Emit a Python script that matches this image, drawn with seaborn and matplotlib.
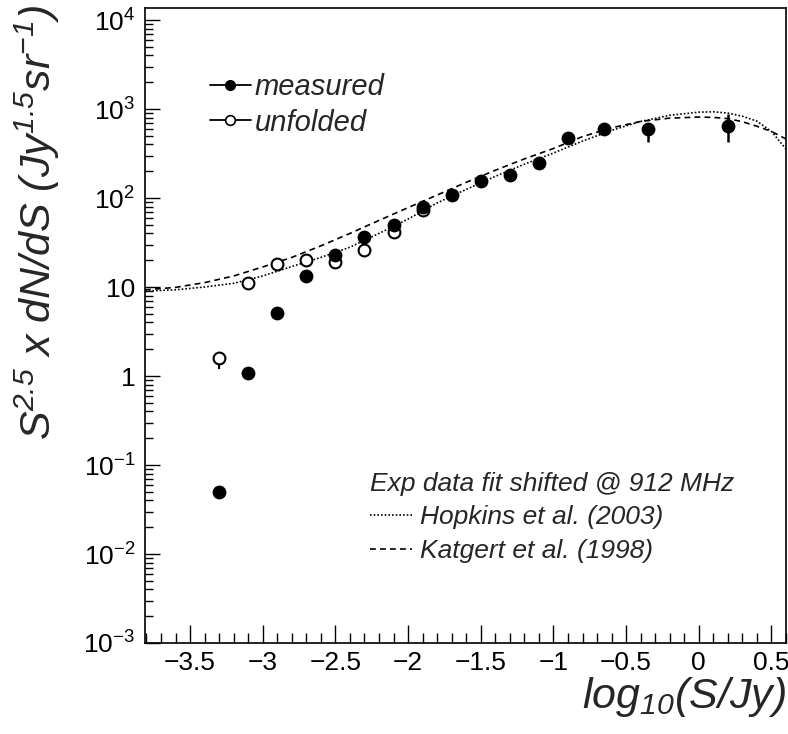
import numpy as np
import pandas as pd
import matplotlib
matplotlib.use("Agg")
import matplotlib.pyplot as plt
import seaborn as sns
from matplotlib.ticker import FixedLocator, FixedFormatter, LogLocator, NullFormatter, MultipleLocator
from matplotlib.lines import Line2D
from matplotlib.font_manager import FontProperties

# ---------------- data ----------------
x_meas = [-3.3, -3.1, -2.9, -2.7, -2.5, -2.3, -2.1, -1.9, -1.7, -1.5, -1.3, -1.1, -0.9, -0.65, -0.35, 0.2]
y_meas = [0.05, 1.08, 5.1, 13.2, 23, 36, 50, 80, 108, 155, 180, 250, 470, 590, 593, 641]
meas_err_lo = [0, 0, 0, 0, 0, 0, 0, 0, 0, 0, 0, 0, 0, 0, 163, 217]
meas_err_hi = [0, 0, 0, 0, 0, 0, 0, 0, 0, 0, 0, 0, 0, 0, 50, 235]

x_unf = [-3.3, -3.1, -2.9, -2.7, -2.5, -2.3, -2.1, -1.9]
y_unf = [1.6, 11.2, 18.3, 20, 19.3, 26, 41, 74]
unf_err_lo = [0.4, 0, 0, 0, 0, 0, 0, 0]
unf_err_hi = [0, 0, 0, 0, 0, 0, 0, 0]

x_curve = [-3.81, -3.6, -3.4, -3.2, -3.0, -2.8, -2.6, -2.4, -2.2, -2.0, -1.8, -1.6,
           -1.4, -1.2, -1.0, -0.8, -0.6, -0.4, -0.2, 0.0, 0.1, 0.2, 0.3, 0.4, 0.5, 0.6]
y_hopkins = [9.0, 9.3, 10.0, 11.0, 13.3, 17.0, 21.5, 28, 40, 58, 88, 125,
             175, 240, 320, 436, 575, 725, 850, 922, 930, 900, 830, 730, 560, 355]
y_katgert = [9.3, 9.9, 11.2, 13.3, 16.8, 21.5, 29, 40, 56, 78, 108, 150,
             205, 275, 360, 490, 615, 725, 790, 812, 805, 780, 720, 640, 560, 460]
curve_names = ["Hopkins et al. (2003)", "Katgert et al. (1998)"]

xtick_vals = [-3.5, -3.0, -2.5, -2.0, -1.5, -1.0, -0.5, 0.0, 0.5]
xtick_labels = ["\u22123.5", "\u22123", "\u22122.5", "\u22122", "\u22121.5", "\u22121", "\u22120.5", "0", "0.5"]
ytick_vals = [1e-3, 1e-2, 1e-1, 1, 10, 1e2, 1e3, 1e4]
ytick_labels = [r"$10^{-3}$", r"$10^{-2}$", r"$10^{-1}$", "1", "10", r"$10^{2}$", r"$10^{3}$", r"$10^{4}$"]

legend_labels = ["measured", "unfolded"]
model_title = "Exp data fit shifted @ 912 MHz"

# ---------------- style ----------------
sns.set_style("ticks")
plt.rcParams.update({
    "font.family": ["Liberation Sans", "DejaVu Sans"],
    "mathtext.fontset": "custom",
    "mathtext.rm": "Liberation Sans",
    "mathtext.it": "Liberation Sans:italic",
    "mathtext.sf": "Liberation Sans:italic",
    "mathtext.bf": "Liberation Sans:bold",
    "axes.unicode_minus": True,
})

fig = plt.figure(figsize=(7.88, 7.34), dpi=100)
ax = fig.add_axes([145 / 788, 1 - 643 / 734, 641 / 788, 635 / 734])
ax.set_yscale("log")

curve_df = pd.DataFrame({
    "x": x_curve + x_curve,
    "y": y_hopkins + y_katgert,
    "model": [curve_names[0]] * len(x_curve) + [curve_names[1]] * len(x_curve),
})
dash_map = {curve_names[0]: (1, 1.2), curve_names[1]: (3.5, 2.5)}
sns.lineplot(data=curve_df, x="x", y="y", style="model", dashes=dash_map,
             color="black", linewidth=1.2, legend=False, ax=ax, zorder=2)

ax.errorbar(x_unf, y_unf, yerr=[unf_err_lo, unf_err_hi], fmt="none",
            ecolor="black", elinewidth=1.5, capsize=0, zorder=2.5)
ax.errorbar(x_meas, y_meas, yerr=[meas_err_lo, meas_err_hi], fmt="none",
            ecolor="black", elinewidth=1.8, capsize=0, zorder=2.5)

sns.scatterplot(x=x_unf, y=y_unf, marker="o", s=72, color="white",
                edgecolor="black", linewidth=1.5, ax=ax, zorder=3)
sns.scatterplot(x=x_meas, y=y_meas, marker="o", s=80, color="black",
                edgecolor="black", linewidth=1.0, ax=ax, zorder=4)

# ---------------- axes ----------------
ax.set_xlim(-3.81, 0.6)
ax.set_ylim(1e-3, 10 ** 4.135)
ax.xaxis.set_major_locator(FixedLocator(xtick_vals))
ax.xaxis.set_major_formatter(FixedFormatter(xtick_labels))
ax.xaxis.set_minor_locator(MultipleLocator(0.1))
ax.yaxis.set_major_locator(FixedLocator(ytick_vals))
ax.yaxis.set_major_formatter(FixedFormatter(ytick_labels))
ax.yaxis.set_minor_locator(LogLocator(base=10, subs=np.arange(2, 10)))
ax.yaxis.set_minor_formatter(NullFormatter())

ax.tick_params(axis="both", which="both", direction="in", top=False, right=False,
               colors="black", width=1.0)
ax.tick_params(axis="x", which="major", length=13, labelsize=19, pad=6)
ax.tick_params(axis="x", which="minor", length=7)
ax.tick_params(axis="y", which="major", length=11, labelsize=19, pad=7)
ax.tick_params(axis="y", which="minor", length=6)
for sp in ax.spines.values():
    sp.set_visible(True)
    sp.set_linewidth(1.2)
    sp.set_color("black")
ax.set_xlabel("")
ax.set_ylabel("")

fig.text(37 / 788, 1 - 222 / 734,
         r"$\mathsf{S}^{\mathsf{2.5}}\mathsf{\ x\ dN/dS\ (Jy}^{\mathsf{1.5}}\mathsf{sr}^{\mathsf{-1}}\mathsf{)}$",
         rotation=90, ha="center", va="center", fontsize=31)
fig.text(786 / 788, 1 - 697 / 734,
         r"$\mathsf{log}_{\mathsf{10}}\mathsf{(S/Jy)}$",
         ha="right", va="center", fontsize=31)

# ---------------- legends ----------------
h_meas = Line2D([], [], color="black", lw=1.3, marker="o", ms=7, mfc="black", mec="black")
h_unf = Line2D([], [], color="black", lw=1.3, marker="o", ms=7, mfc="white", mec="black", mew=1.2)
leg1 = ax.legend([h_meas, h_unf], legend_labels, loc="upper left",
                 bbox_to_anchor=(0.101, 0.897), frameon=False, borderpad=0, borderaxespad=0,
                 handlelength=1.4, handletextpad=0.15, labelspacing=0.25,
                 prop=FontProperties(family="Liberation Sans", style="italic", size=21))
ax.add_artist(leg1)

h_hop = Line2D([], [], color="black", lw=1.2, dashes=dash_map[curve_names[0]])
h_kat = Line2D([], [], color="black", lw=1.2, dashes=dash_map[curve_names[1]])
leg2 = ax.legend([h_hop, h_kat], curve_names, loc="upper left",
                 bbox_to_anchor=(0.351, 0.27), frameon=False, borderpad=0, borderaxespad=0,
                 handlelength=1.6, handletextpad=0.3, labelspacing=0.38,
                 title=model_title, alignment="left",
                 prop=FontProperties(family="Liberation Sans", style="italic", size=19),
                 title_fontproperties=FontProperties(family="Liberation Sans", style="italic", size=19))
leg2._legend_box.sep = 7

fig.savefig("out.png", dpi=100)
